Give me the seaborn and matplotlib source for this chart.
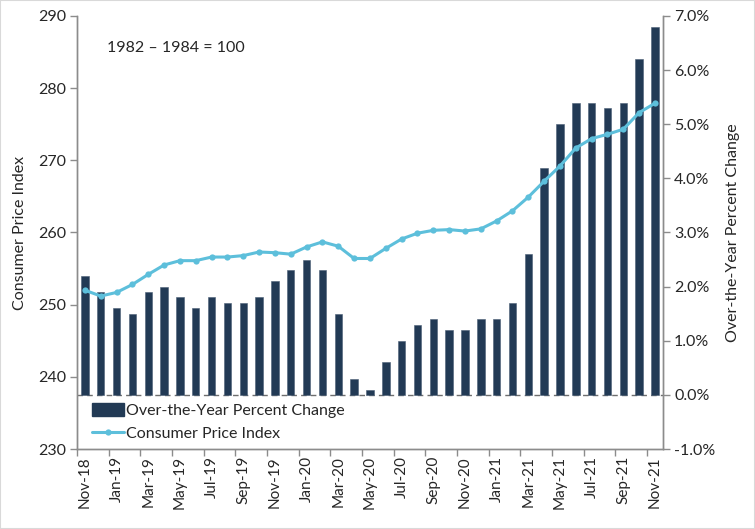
import numpy as np
import pandas as pd
import matplotlib
matplotlib.use("Agg")
import matplotlib.pyplot as plt
import seaborn as sns
from matplotlib.ticker import FuncFormatter, FixedLocator
from matplotlib.patches import Patch
from matplotlib.lines import Line2D

months = ["Nov-18", "Dec-18", "Jan-19", "Feb-19", "Mar-19", "Apr-19", "May-19", "Jun-19",
          "Jul-19", "Aug-19", "Sep-19", "Oct-19", "Nov-19", "Dec-19", "Jan-20", "Feb-20",
          "Mar-20", "Apr-20", "May-20", "Jun-20", "Jul-20", "Aug-20", "Sep-20", "Oct-20",
          "Nov-20", "Dec-20", "Jan-21", "Feb-21", "Mar-21", "Apr-21", "May-21", "Jun-21",
          "Jul-21", "Aug-21", "Sep-21", "Oct-21", "Nov-21"]
pct_change = [2.2, 1.9, 1.6, 1.5, 1.9, 2.0, 1.8, 1.6, 1.8, 1.7, 1.7, 1.8, 2.1, 2.3,
              2.5, 2.3, 1.5, 0.3, 0.1, 0.6, 1.0, 1.3, 1.4, 1.2, 1.2, 1.4, 1.4, 1.7,
              2.6, 4.2, 5.0, 5.4, 5.4, 5.3, 5.4, 6.2, 6.8]
cpi = [252.0, 251.2, 251.7, 252.8, 254.2, 255.5, 256.1, 256.1, 256.6, 256.6, 256.8,
       257.3, 257.2, 257.0, 258.0, 258.7, 258.1, 256.4, 256.4, 257.8, 259.1, 259.9,
       260.3, 260.4, 260.2, 260.5, 261.6, 263.0, 264.9, 267.1, 269.2, 271.7, 273.0,
       273.6, 274.3, 276.6, 277.9]

bar_color = "#223A55"
line_color = "#5DBFDB"
axis_gray = "#8C8C8C"
text_color = "#262626"

sns.set_style("white")
plt.rcParams["font.family"] = ["Lato", "DejaVu Sans"]

df = pd.DataFrame({"idx": np.arange(len(months)), "month": months,
                   "pct": pct_change, "cpi": cpi})

fig = plt.figure(figsize=(7.55, 5.29), dpi=100)
ax = fig.add_axes([0.102, 0.151, 0.776, 0.819])
ax2 = ax.twinx()

sns.barplot(data=df, x="idx", y="pct", ax=ax2, color=bar_color, width=0.47,
            saturation=1, edgecolor="#4A5E75", linewidth=0.4)
ax2.axhline(0, color="#6E6E6E", lw=1.0, dashes=(4, 3), zorder=0.5)

sns.lineplot(data=df, x="idx", y="cpi", ax=ax, color=line_color, lw=2.2,
             marker="o", markersize=4.5, markeredgewidth=0, zorder=5)

ax.set_zorder(ax2.get_zorder() + 1)
ax.patch.set_visible(False)

ax.set_xlim(-0.5, len(months) - 0.5)
ax.set_ylim(230, 290)
ax2.set_ylim(-1.0, 7.0)
ax.set_yticks(np.arange(230, 291, 10))
ax2.set_yticks(np.arange(-1, 8, 1))
ax2.yaxis.set_major_formatter(FuncFormatter(lambda v, p: f"{v:.1f}%"))

ax.set_xticks(np.arange(0, len(months), 2))
ax.set_xticklabels(months[::2], rotation=90)
ax.xaxis.set_minor_locator(FixedLocator(np.arange(-0.5, len(months), 2)))
ax.tick_params(axis="x", which="major", length=0, pad=5, labelsize=11, labelcolor=text_color)
ax.tick_params(axis="x", which="minor", length=5, width=1, color=axis_gray, direction="out", bottom=True)
ax.tick_params(axis="y", length=5, width=1, color=axis_gray, direction="out", left=True,
               labelsize=11.5, labelcolor=text_color, pad=3)
ax2.tick_params(axis="y", length=5, width=1, color=axis_gray, direction="out", right=True,
                labelsize=11.5, labelcolor=text_color, pad=3)
ax2.tick_params(axis="x", length=0)
ax2.set_xlabel("")
ax.set_xlabel("")

ax.set_ylabel("Consumer Price Index", fontsize=11.5, color=text_color, labelpad=8)
ax2.set_ylabel("Over-the-Year Percent Change", fontsize=11.5, color=text_color, labelpad=8)

for a in (ax, ax2):
    a.spines["top"].set_visible(False)
    for s in ("left", "right", "bottom"):
        a.spines[s].set_color(axis_gray)
        a.spines[s].set_linewidth(1)

ax.text(0.052, 0.925, "1982 \u2013 1984 = 100", transform=ax.transAxes, fontsize=11.5,
        color=text_color, va="center", ha="left")

handles = [Patch(facecolor=bar_color, edgecolor=bar_color),
           Line2D([0], [0], color=line_color, lw=2.2, marker="o", markersize=4.5,
                  markeredgewidth=0)]
leg = ax.legend(handles, ["Over-the-Year Percent Change", "Consumer Price Index"],
                loc="upper left", bbox_to_anchor=(0.025, 0.106), frameon=False,
                fontsize=11.5, handlelength=2.0, handleheight=0.9, handletextpad=0.15,
                labelspacing=0.5, borderaxespad=0, borderpad=0)
for t in leg.get_texts():
    t.set_color(text_color)

fig.patches.append(plt.Rectangle((0, 0), 1, 1, transform=fig.transFigure, fill=False,
                                 edgecolor="#D9D9D9", lw=1.5))

fig.savefig("out.png", dpi=100)
